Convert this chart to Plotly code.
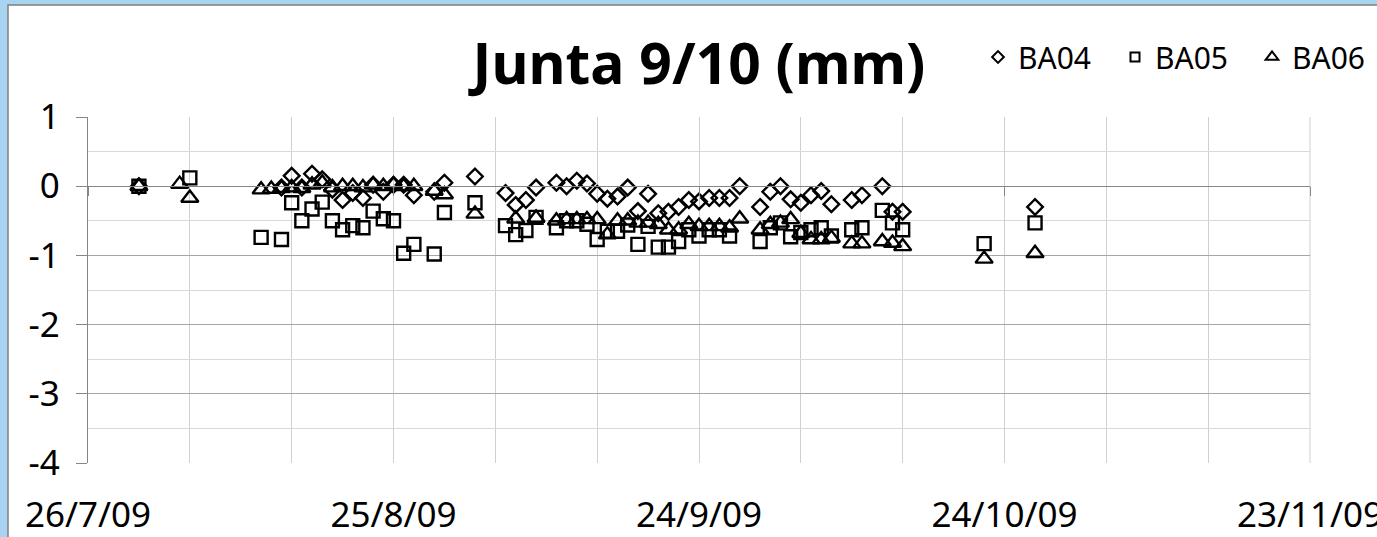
import plotly.graph_objects as go

dates = ['2009-07-31','2009-08-04','2009-08-05','2009-08-12','2009-08-13','2009-08-14','2009-08-15',
         '2009-08-16','2009-08-17','2009-08-18','2009-08-19','2009-08-20','2009-08-21','2009-08-22',
         '2009-08-23','2009-08-24','2009-08-25','2009-08-26','2009-08-27','2009-08-29','2009-08-30',
         '2009-09-02','2009-09-05','2009-09-06','2009-09-07','2009-09-08','2009-09-10','2009-09-11',
         '2009-09-12','2009-09-13','2009-09-14','2009-09-15','2009-09-16','2009-09-17','2009-09-18',
         '2009-09-19','2009-09-20','2009-09-21','2009-09-22','2009-09-23','2009-09-24','2009-09-25',
         '2009-09-26','2009-09-27','2009-09-28','2009-09-30','2009-10-01','2009-10-02','2009-10-03',
         '2009-10-04','2009-10-05','2009-10-06','2009-10-07','2009-10-09','2009-10-10','2009-10-12',
         '2009-10-13','2009-10-14','2009-10-22','2009-10-27']

ba04 = [0.0, None, None, None, None, -0.02, 0.15, -0.02, 0.18, 0.10, -0.05, -0.20, -0.10, -0.17,
        0.02, -0.08, 0.02, 0.02, -0.13, -0.08, 0.05, 0.14, -0.10, -0.27, -0.20, -0.02, 0.05, 0.00,
        0.08, 0.04, -0.11, -0.18, -0.15, -0.02, -0.36, -0.11, -0.39, -0.37, -0.30, -0.20, -0.22, -0.17,
        -0.17, -0.17, 0.00, -0.30, -0.08, 0.00, -0.19, -0.24, -0.13, -0.07, -0.26, -0.20, -0.13, 0.00,
        -0.37, -0.37, None, -0.30]

ba05 = [0.0, None, 0.12, -0.74, None, -0.77, -0.24, -0.50, -0.33, -0.23, -0.50, -0.63, -0.57, -0.60,
        -0.36, -0.47, -0.50, -0.97, -0.84, -0.98, -0.38, -0.24, -0.57, -0.70, -0.64, -0.45, -0.60, -0.50,
        -0.50, -0.55, -0.77, -0.65, -0.65, -0.56, -0.84, -0.58, -0.88, -0.88, -0.80, -0.63, -0.72, -0.63,
        -0.63, -0.72, None, -0.80, -0.60, -0.53, -0.73, -0.67, -0.63, -0.60, -0.72, -0.63, -0.60, -0.35,
        -0.53, -0.63, -0.83, -0.53]

ba06 = [0.0, 0.03, -0.17, -0.05, -0.04, -0.03, -0.02, -0.03, 0.02, 0.05, -0.02, 0.0, 0.0, -0.02,
        0.02, 0.0, 0.02, 0.0, 0.0, -0.07, -0.12, -0.40, None, -0.47, None, -0.46, -0.50, -0.48,
        -0.48, -0.48, -0.48, -0.70, -0.50, -0.50, -0.53, -0.53, -0.55, -0.63, -0.63, -0.55, -0.58, -0.58,
        -0.58, -0.60, -0.47, -0.63, -0.55, -0.53, -0.48, -0.68, -0.77, -0.77, -0.75, -0.83, -0.83, -0.80,
        -0.82, -0.87, -1.05, -0.97]

series_names = ['BA04', 'BA05', 'BA06']
tick_dates = ['2009-07-26', '2009-08-25', '2009-09-24', '2009-10-24', '2009-11-23']
tick_labels = ['26/7/09', '25/8/09', '24/9/09', '24/10/09', '23/11/09']
y_ticks = [1, 0, -1, -2, -3, -4]
y_tick_labels = ['1', '0', '-1', '-2', '-3', '-4']

FONT = 'Noto Sans'
W, H = 1377, 537
L, R, T, B = 88, 67, 117, 74
PW, PH = W - L - R, H - T - B

def fx(px):
    return (px - L) / PW

def fy(py):
    return (H - B - py) / PH

symbols = ['diamond-open', 'square-open', 'triangle-up-open']
sizes = [12, 13, 15]
leg_sizes = [9, 9, 11]

fig = go.Figure()
for name, vals, sym, sz in zip(series_names, [ba04, ba05, ba06], symbols, sizes):
    fig.add_trace(go.Scatter(x=dates, y=vals, mode='markers', name=name, showlegend=False,
                             marker=dict(symbol=sym, size=sz, color='black',
                                         line=dict(color='black', width=2.4))))
for name, sym, sz in zip(series_names, symbols, leg_sizes):
    fig.add_trace(go.Scatter(x=[None], y=[None], mode='markers', name=name, showlegend=True,
                             marker=dict(symbol=sym, size=sz, color='black',
                                         line=dict(color='black', width=2))))

# invisible trace for the horizontal axis crossing at y=0 (tick marks)
fig.add_trace(go.Scatter(x=[None], y=[None], xaxis='x2', showlegend=False))

fig.update_layout(
    width=W, height=H,
    margin=dict(l=L, r=R, t=T, b=B, autoexpand=False),
    paper_bgcolor='#a9d4f1',
    plot_bgcolor='white',
    font=dict(family=FONT, color='black'),
    title=dict(text='<b>Junta 9/10 (mm)</b>', font=dict(family=FONT, size=57, color='black'),
               x=0.5, xref='paper', xanchor='center', y=1 - 64 / H, yref='container', yanchor='middle'),
    showlegend=True,
    legend=dict(orientation='h', x=fx(978), xanchor='left', y=fy(57), yanchor='middle',
                font=dict(family=FONT, size=30, color='black'), bgcolor='rgba(0,0,0,0)',
                entrywidth=92, entrywidthmode='pixels',
                itemclick=False, traceorder='normal'),
    xaxis=dict(type='date', range=['2009-07-26', '2009-11-23'], automargin=False,
               tickvals=tick_dates, ticktext=tick_labels, tickfont=dict(size=35),
               ticks='', ticklabelstandoff=28, ticklabeloverflow='allow',
               showgrid=True, gridcolor='#d0d0d0', gridwidth=1,
               minor=dict(dtick=10 * 86400000, tick0='2009-07-26', showgrid=True,
                          gridcolor='#d0d0d0', gridwidth=1),
               showline=False, zeroline=False),
    xaxis2=dict(type='date', range=['2009-07-26', '2009-11-23'], overlaying='x', anchor='free',
                position=0.8, side='bottom', showline=True, linecolor='#868686', linewidth=1.3,
                tickvals=tick_dates, ticks='outside', ticklen=9, tickcolor='#868686',
                showticklabels=False, showgrid=False, zeroline=False, automargin=False),
    yaxis=dict(range=[-4, 1], tickvals=y_ticks, ticktext=y_tick_labels, tickfont=dict(size=35),
               automargin=False,
               ticks='outside', ticklen=11, tickcolor='#868686', ticklabelstandoff=9,
               showgrid=True, gridcolor='#a6a6a6', gridwidth=1,
               minor=dict(dtick=0.5, showgrid=True, gridcolor='#d9d9d9', gridwidth=1),
               showline=True, linecolor='#868686', linewidth=1.3, zeroline=False),
    shapes=[
        dict(type='rect', xref='paper', yref='paper', x0=fx(8), x1=fx(1400), y0=fy(560), y1=fy(5),
             fillcolor='white', line=dict(color='#7f7f7f', width=1.5), layer='below'),
        dict(type='line', xref='paper', yref='paper', x0=1, x1=1, y0=0, y1=1,
             line=dict(color='#d0d0d0', width=1), layer='below'),
    ],
)

fig.write_html('out.html', config={'displayModeBar': False},
               post_script="document.body.style.margin='0';document.body.style.overflow='hidden';")
